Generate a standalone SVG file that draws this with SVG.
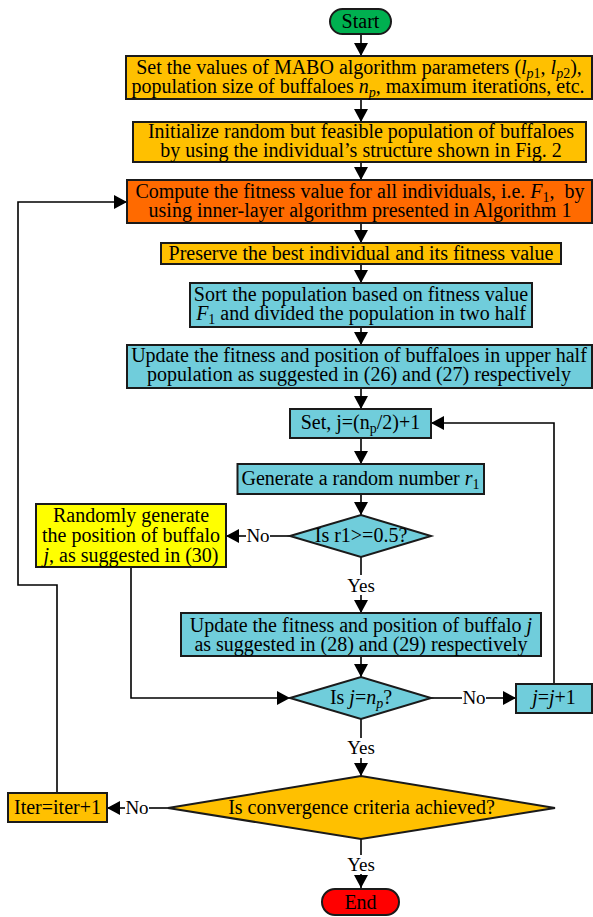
<svg xmlns="http://www.w3.org/2000/svg" width="593" height="917" viewBox="0 0 593 917">
<defs>
<marker id="arr" markerUnits="userSpaceOnUse" markerWidth="13" markerHeight="14" refX="13" refY="7" orient="auto">
<path d="M0,0 L13,7 L0,14 z" fill="#000"/>
</marker>
<style>
text{font-family:"Liberation Serif","Times New Roman",serif;font-size:20px;fill:#000;text-anchor:middle}
.i{font-style:italic}
.s{font-size:14px}
.box{stroke:#1a1a1a;stroke-width:2}
.amber{fill:#FFC000}
.orange{fill:#FF6A00}
.cyan{fill:#70CDDB}
.yellow{fill:#FFFF00}
.green{fill:#00B050}
.red{fill:#FF0000}
.ln{fill:none;stroke:#000;stroke-width:1.6}
.lbl{font-size:19px}
</style>
</defs>
<rect width="593" height="917" fill="#fff"/>

<g id="connectors">
<line class="ln" x1="361" y1="34" x2="361" y2="56" marker-end="url(#arr)"/>
<line class="ln" x1="361" y1="99" x2="361" y2="122" marker-end="url(#arr)"/>
<line class="ln" x1="361" y1="162" x2="361" y2="180" marker-end="url(#arr)"/>
<line class="ln" x1="361" y1="223" x2="361" y2="243" marker-end="url(#arr)"/>
<line class="ln" x1="361" y1="264" x2="361" y2="283" marker-end="url(#arr)"/>
<line class="ln" x1="361" y1="327" x2="361" y2="345" marker-end="url(#arr)"/>
<line class="ln" x1="361" y1="388" x2="361" y2="409" marker-end="url(#arr)"/>
<line class="ln" x1="361" y1="438" x2="361" y2="464" marker-end="url(#arr)"/>
<line class="ln" x1="361" y1="494" x2="361" y2="515" marker-end="url(#arr)"/>
<line class="ln" x1="361" y1="557" x2="361" y2="575"/>
<text class="lbl" x="361" y="592">Yes</text>
<line class="ln" x1="361" y1="595" x2="361" y2="613" marker-end="url(#arr)"/>
<line class="ln" x1="290" y1="536" x2="270" y2="536"/>
<text class="lbl" x="258" y="542">No</text>
<line class="ln" x1="246" y1="536" x2="226" y2="536" marker-end="url(#arr)"/>
<line class="ln" x1="361" y1="656" x2="361" y2="677" marker-end="url(#arr)"/>
<polyline class="ln" points="131,567 131,698 290,698" marker-end="url(#arr)"/>
<line class="ln" x1="431" y1="698" x2="462" y2="698"/>
<text class="lbl" x="474" y="704">No</text>
<line class="ln" x1="486" y1="698" x2="516" y2="698" marker-end="url(#arr)"/>
<polyline class="ln" points="554,684 554,423 431,423" marker-end="url(#arr)"/>
<line class="ln" x1="361" y1="719" x2="361" y2="738"/>
<text class="lbl" x="361" y="754">Yes</text>
<line class="ln" x1="361" y1="758" x2="361" y2="776" marker-end="url(#arr)"/>
<line class="ln" x1="168" y1="808" x2="149" y2="808"/>
<text class="lbl" x="137" y="814">No</text>
<line class="ln" x1="125" y1="808" x2="107" y2="808" marker-end="url(#arr)"/>
<polyline class="ln" points="57,793 57,585 18,585 18,202 127,202" marker-end="url(#arr)"/>
<line class="ln" x1="361" y1="839" x2="361" y2="855"/>
<text class="lbl" x="361" y="871">Yes</text>
<line class="ln" x1="361" y1="874" x2="361" y2="888" marker-end="url(#arr)"/>
</g>

<g id="start">
<rect class="box green" x="330" y="9" width="61" height="25" rx="12.5"/>
<text x="360.5" y="28">Start</text>
</g>

<g id="set-params">
<rect class="box amber" x="126" y="56" width="466" height="43"/>
<text x="359" y="74">Set the values of MABO algorithm parameters (<tspan class="i">l</tspan><tspan class="s i" dy="4">p</tspan><tspan class="s">1</tspan><tspan dy="-4">, </tspan><tspan class="i">l</tspan><tspan class="s i" dy="4">p</tspan><tspan class="s">2</tspan><tspan dy="-4">),</tspan></text>
<text x="358" y="93">population size of buffaloes <tspan class="i">n</tspan><tspan class="s i" dy="4">p</tspan><tspan dy="-4">, maximum iterations, etc.</tspan></text>
</g>

<g id="init-pop">
<rect class="box amber" x="133" y="122" width="453" height="40"/>
<text x="361" y="137.5">Initialize random but feasible population of buffaloes</text>
<text x="361" y="156.5">by using the individual’s structure shown in Fig. 2</text>
</g>

<g id="compute-fitness">
<rect class="box orange" x="127" y="180" width="465" height="43"/>
<text x="360" y="198">Compute the fitness value for all individuals, i.e. <tspan class="i">F</tspan><tspan class="s" dy="4">1</tspan><tspan dy="-4" xml:space="preserve">,  by</tspan></text>
<text x="360" y="217">using inner-layer algorithm presented in Algorithm 1</text>
</g>

<g id="preserve">
<rect class="box amber" x="161" y="243" width="400" height="21"/>
<text x="361" y="260">Preserve the best individual and its fitness value</text>
</g>

<g id="sort">
<rect class="box cyan" x="190" y="283" width="342" height="44"/>
<text x="361" y="300.5">Sort the population based on fitness value</text>
<text x="361" y="320"><tspan class="i">F</tspan><tspan class="s" dy="4">1</tspan><tspan dy="-4"> and divided the population in two half</tspan></text>
</g>

<g id="update-upper">
<rect class="box cyan" x="127" y="345" width="465" height="43"/>
<text x="359" y="362">Update the fitness and position of  buffaloes in upper half</text>
<text x="359" y="381">population as suggested in (26) and (27) respectively</text>
</g>

<g id="set-j">
<rect class="box cyan" x="290" y="409" width="141" height="29"/>
<text x="360.5" y="429">Set, j=(n<tspan class="s" dy="4">p</tspan><tspan dy="-4">/2)+1</tspan></text>
</g>

<g id="gen-r1">
<rect class="box cyan" x="237.5" y="464" width="246.5" height="30"/>
<text x="360.5" y="485">Generate a random number <tspan class="i">r</tspan><tspan class="s" dy="4">1</tspan></text>
</g>

<g id="dec-r1">
<polygon class="box cyan" points="290,536 361,515 431,536 361,557"/>
<text x="361" y="542">Is r1&gt;=0.5?</text>
</g>

<g id="random-gen">
<rect class="box yellow" x="36" y="504" width="190" height="63"/>
<text x="131" y="522">Randomly generate</text>
<text x="131" y="542">the position of buffalo</text>
<text x="131" y="562"><tspan class="i">j</tspan>, as suggested in (30)</text>
</g>

<g id="update-j">
<rect class="box cyan" x="181" y="613" width="360" height="43"/>
<text x="361" y="632">Update the fitness and position of  buffalo <tspan class="i">j</tspan></text>
<text x="361" y="651">as suggested in (28) and (29) respectively</text>
</g>

<g id="dec-j">
<polygon class="box cyan" points="290,698 361,677 431,698 361,719"/>
<text x="361" y="704">Is <tspan class="i">j</tspan>=<tspan class="i">n</tspan><tspan class="s i" dy="4">p</tspan><tspan dy="-4">?</tspan></text>
</g>

<g id="j-inc">
<rect class="box cyan" x="516" y="684" width="76" height="29"/>
<text x="554" y="704"><tspan class="i">j</tspan>=<tspan class="i">j</tspan>+1</text>
</g>

<g id="dec-conv">
<polygon class="box amber" points="168,808 361,776 555,808 361,839"/>
<text x="361.5" y="814">Is convergence criteria achieved?</text>
</g>

<g id="iter">
<rect class="box amber" x="8" y="793" width="99" height="29"/>
<text x="57.5" y="814">Iter=iter+1</text>
</g>

<g id="end">
<rect class="box red" x="322" y="889" width="77" height="26" rx="13"/>
<text x="360.5" y="909">End</text>
</g>
</svg>
